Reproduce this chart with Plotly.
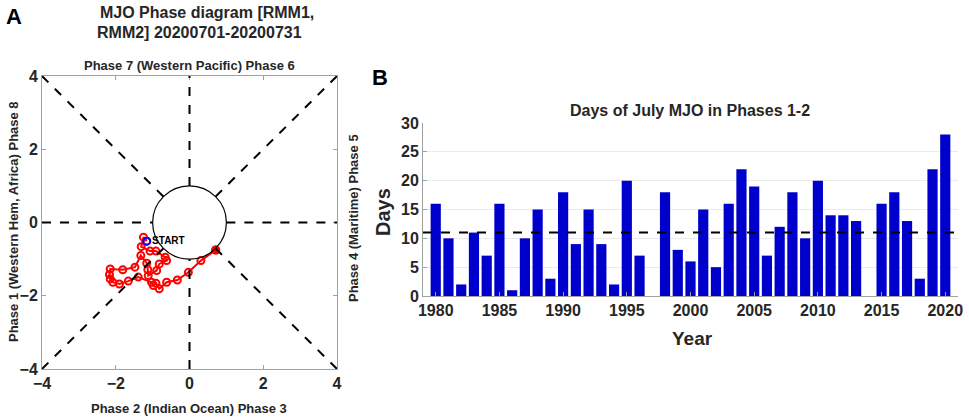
import numpy as np
import plotly.graph_objects as go

# panel A: daily RMM1/RMM2, 1-31 July 2020
rmm1 = [-1.16, -1.25, -1.31, -1.07, -0.91, -0.66, -0.62, -0.82, -0.89, -1.12,
        -1.13, -1.16, -1.32, -1.48, -1.81, -2.15, -2.17, -2.15, -2.08, -1.90,
        -1.66, -1.39, -1.03, -0.98, -0.91, -0.82, -0.62, -0.33, -0.03, 0.31, 0.71]
rmm2 = [-0.51, -0.40, -0.66, -0.78, -0.78, -0.95, -1.04, -1.13, -1.31, -1.45,
        -1.29, -1.11, -0.90, -1.22, -1.29, -1.27, -1.42, -1.54, -1.63, -1.68,
        -1.60, -1.49, -1.63, -1.72, -1.66, -1.81, -1.63, -1.57, -1.36, -1.04, -0.75]

# panel B: July days in phases 1-2
years = list(range(1980, 2021))
days = [16, 10, 2, 11, 7, 16, 1, 10, 15, 3,
        18, 9, 15, 9, 2, 20, 7, 0, 18, 8,
        6, 15, 5, 16, 22, 19, 7, 12, 18, 10,
        20, 14, 14, 13, 0, 16, 18, 13, 3, 22, 28]
mean_days = 11

W, H = 969, 419
FONT = "Liberation Sans"
TXT = "#262626"


def px(x):
    return x / W


def py(y):
    return 1 - y / H


fig = go.Figure()

# trajectory
fig.add_trace(go.Scatter(
    x=rmm1, y=rmm2, mode="lines+markers", xaxis="x", yaxis="y",
    line=dict(color="red", width=2),
    marker=dict(symbol="circle-open", size=7, color="red", line=dict(width=2)),
    showlegend=False,
))
fig.add_trace(go.Scatter(
    x=[rmm1[-1]], y=[rmm2[-1]], mode="markers", xaxis="x", yaxis="y",
    marker=dict(symbol="circle", size=9, color="red"), showlegend=False,
))
fig.add_trace(go.Scatter(
    x=[rmm1[0]], y=[rmm2[0]], mode="markers+text", xaxis="x", yaxis="y",
    marker=dict(symbol="circle-open", size=7, color="blue", line=dict(width=2)),
    text=["START"], textposition="middle right",
    textfont=dict(family=FONT, size=10, color="black", weight="bold"),
    showlegend=False,
))

# bars
fig.add_trace(go.Bar(
    x=years, y=days, xaxis="x2", yaxis="y2", width=0.8,
    marker=dict(color="#0000cc", line=dict(width=0)), showlegend=False,
))

shapes = []
dash = dict(color="black", width=2, dash="dash")
r = 1 / np.sqrt(2)
for x0, y0, x1, y1 in [(-4, 0, -1, 0), (1, 0, 4, 0), (0, -4, 0, -1), (0, 1, 0, 4),
                       (-4, -4, -r, -r), (r, r, 4, 4), (-4, 4, -r, r), (r, -r, 4, -4)]:
    shapes.append(dict(type="line", xref="x", yref="y", x0=x0, y0=y0, x1=x1, y1=y1, line=dash))
shapes.append(dict(type="circle", xref="x", yref="y", x0=-1, y0=-1, x1=1, y1=1,
                   line=dict(color="black", width=1.2)))
shapes.append(dict(type="line", xref="x2", yref="y2", x0=1979, x1=2021,
                   y0=mean_days, y1=mean_days, line=dash))

tick = dict(family=FONT, size=16, color=TXT, weight="bold")
axA = dict(range=[-4, 4], tickvals=[-4, -2, 0, 2, 4], showgrid=False, zeroline=False,
           showline=True, linecolor="#a0a0a0", linewidth=1, mirror="ticks",
           ticks="inside", ticklen=4, tickcolor="#a0a0a0", tickfont=tick,
           automargin=False)

fig.update_layout(
    width=W, height=H, margin=dict(l=0, r=0, t=0, b=0),
    paper_bgcolor="white", plot_bgcolor="white",
    xaxis=dict(axA, domain=[px(42), px(337)], anchor="y"),
    yaxis=dict(axA, domain=[py(369), py(76)], anchor="x"),
    xaxis2=dict(domain=[px(423), px(958)], anchor="y2", range=[1979, 2021],
                tickvals=list(range(1980, 2021, 5)), showgrid=False, zeroline=False,
                showline=True, linecolor="#a0a0a0", ticks="inside", ticklen=4,
                tickcolor="#a0a0a0", tickfont=tick, automargin=False),
    yaxis2=dict(domain=[py(296), py(123)], anchor="x2", range=[0, 30],
                tickvals=list(range(0, 31, 5)), showgrid=True, gridcolor="#ebebeb",
                zeroline=False, showline=True, linecolor="#a0a0a0", ticks="inside",
                ticklen=4, tickcolor="#a0a0a0", tickfont=tick, automargin=False),
    shapes=shapes,
    bargap=0.2,
)


def note(text, x, y, size, angle=0, xanchor="center"):
    fig.add_annotation(text=text, x=px(x), y=py(y), xref="paper", yref="paper",
                       showarrow=False, textangle=angle, xanchor=xanchor, yanchor="middle",
                       font=dict(family=FONT, size=size, color="black" if size > 20 else TXT,
                                 weight="bold"))


note("A", 14, 16, 22)
note("B", 380, 78, 22)
note("MJO Phase diagram [RMM1,", 207, 13, 16)
note("RMM2] 20200701-20200731", 199, 33, 16)
note("Phase 7 (Western Pacific) Phase 6", 189, 65, 13)
note("Phase 2 (Indian Ocean) Phase 3", 189, 408, 13)
note("Phase 1 (Western Hem, Africa) Phase 8", 13, 222, 13, angle=-90)
note("Phase 4 (Maritime) Phase 5", 353, 218, 13, angle=-90)
note("Days of July MJO in Phases 1-2", 690, 110, 16)
note("Days", 383, 212, 20, angle=-90)
note("Year", 692, 338, 19)

# the page's default body margin would push the figure off the window
fig.write_html("out.html", config={"displayModeBar": False},
               post_script="document.body.style.margin='0';")
